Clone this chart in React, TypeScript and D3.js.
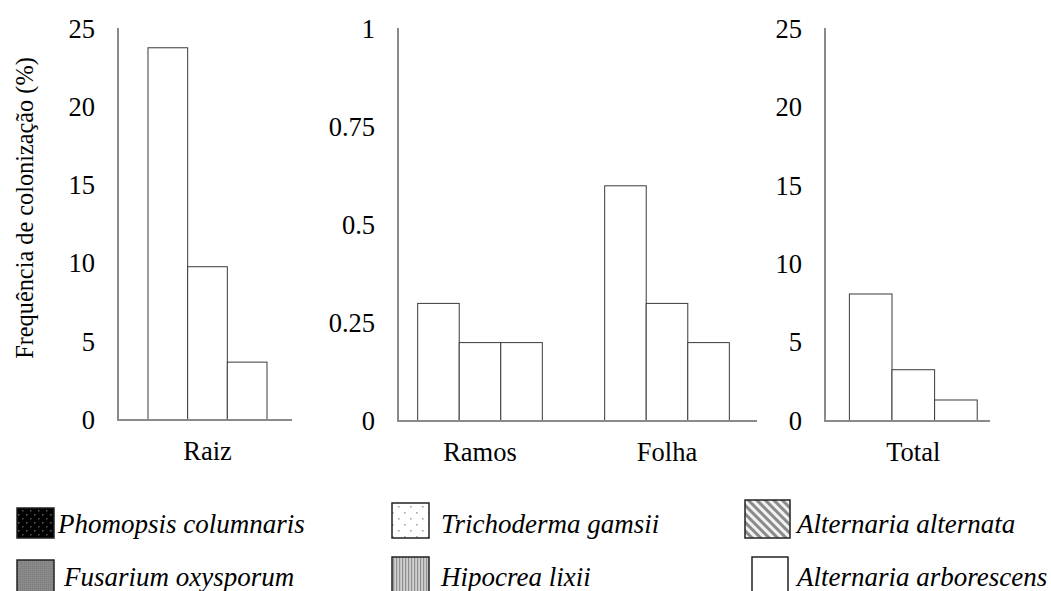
import React from "react";
import * as d3 from "d3";

const series = ["s1", "s2", "s3"];
const raizCats = ["Raiz"];
const raizValues = [[23.8, 9.8, 3.7]];
const midCats = ["Ramos", "Folha"];
const midValues = [
  [0.3, 0.2, 0.2],
  [0.6, 0.3, 0.2],
];
const totalCats = ["Total"];
const totalValues = [[8.1, 3.27, 1.34]];
const pctTicks = [0, 5, 10, 15, 20, 25];
const fracTicks = [0, 0.25, 0.5, 0.75, 1];
const fracTickLabels = ["0", "0.25", "0.5", "0.75", "1"];
const legendNames = [
  "Phomopsis columnaris",
  "Fusarium oxysporum",
  "Trichoderma gamsii",
  "Hipocrea lixii",
  "Alternaria alternata",
  "Alternaria arborescens",
];
const yTitle = "Frequência de colonização (%)";

const FONT = "Liberation Serif, Tinos, Times New Roman, DejaVu Serif, serif";
const FS = 26.5;
const AXIS = "#8a8a8a";

type PanelProps = {
  cats: string[];
  values: number[][];
  domainMax: number;
  ticks: number[];
  tickLabels: string[];
  axisX: number;
  axisEnd: number;
  bandRange: [number, number];
  innerPad: number;
  baseY: number;
  topY: number;
  labelRight: number;
};

const txt = { fontFamily: FONT, fontSize: FS } as React.CSSProperties;

function Panel(p: PanelProps) {
  const y = d3.scaleLinear().domain([0, p.domainMax]).range([p.baseY, p.topY]);
  const x0 = d3.scaleBand().domain(p.cats).range(p.bandRange).padding(0);
  const x1 = d3
    .scaleBand()
    .domain(series)
    .range([0, x0.bandwidth()])
    .paddingInner(0)
    .paddingOuter(p.innerPad);
  return (
    <g>
      {p.cats.map((c, ci) => (
        <g key={c}>
          {series.map((s, si) => {
            const v = p.values[ci][si];
            const bx = (x0(c) as number) + (x1(s) as number);
            return (
              <rect
                key={s}
                x={bx}
                y={y(v)}
                width={x1.bandwidth()}
                height={p.baseY - y(v)}
                fill="#fff"
                stroke="#3a3a3a"
                strokeWidth={1}
              />
            );
          })}
          <text
            x={(x0(c) as number) + x0.bandwidth() / 2}
            y={p.baseY + 40}
            textAnchor="middle"
            style={txt}
            fill="#000"
          >
            {c}
          </text>
        </g>
      ))}
      <line x1={p.axisX} x2={p.axisX} y1={p.topY - 1} y2={p.baseY} stroke={AXIS} strokeWidth={2} />
      <line x1={p.axisX - 1} x2={p.axisEnd} y1={p.baseY} y2={p.baseY} stroke={AXIS} strokeWidth={2} />
      {p.ticks.map((t, i) => (
        <text
          key={t}
          x={p.labelRight}
          y={y(t)}
          dy="0.33em"
          textAnchor="end"
          style={txt}
          fill="#000"
        >
          {p.tickLabels[i]}
        </text>
      ))}
    </g>
  );
}

export default function App() {
  const sw = [
    { x: 17, y: 508, w: 37, h: 30, fill: "url(#pPhom)", tx: 58, ty: 533 },
    { x: 17, y: 560, w: 37, h: 34, fill: "url(#pFus)", tx: 64, ty: 586 },
    { x: 392, y: 503, w: 37, h: 35, fill: "url(#pTri)", tx: 441, ty: 533 },
    { x: 392, y: 557, w: 37, h: 37, fill: "url(#pHip)", tx: 441, ty: 586 },
    { x: 745, y: 500, w: 45, h: 38, fill: "url(#pAlt)", tx: 797, ty: 533 },
    { x: 752, y: 557, w: 36, h: 37, fill: "#fff", tx: 797, ty: 586 },
  ];
  return (
    <svg
      width={1051}
      height={591}
      style={{ position: "absolute", left: 0, top: 0, background: "#fff" }}
    >
      <defs>
        <pattern id="pPhom" width="8" height="8" patternUnits="userSpaceOnUse">
          <rect width="8" height="8" fill="#000" />
          <rect x="2" y="2" width="1.5" height="1.5" fill="#666" />
          <rect x="6" y="6" width="1.5" height="1.5" fill="#555" />
        </pattern>
        <pattern id="pFus" width="2" height="2" patternUnits="userSpaceOnUse">
          <rect width="2" height="2" fill="#8a8a8a" />
          <rect width="1" height="1" fill="#7a7a7a" />
        </pattern>
        <pattern id="pTri" width="12" height="12" patternUnits="userSpaceOnUse">
          <rect width="12" height="12" fill="#fff" />
          <rect x="2" y="2" width="1.6" height="1.6" fill="#aaa" />
          <rect x="8" y="8" width="1.6" height="1.6" fill="#aaa" />
        </pattern>
        <pattern id="pHip" width="3" height="3" patternUnits="userSpaceOnUse">
          <rect width="3" height="3" fill="#d0d0d0" />
          <rect width="1.2" height="3" fill="#909090" />
        </pattern>
        <pattern
          id="pAlt"
          width="6"
          height="6"
          patternUnits="userSpaceOnUse"
          patternTransform="rotate(-45)"
        >
          <rect width="6" height="6" fill="#f2f2f2" />
          <rect width="3" height="6" fill="#8a8a8a" />
        </pattern>
      </defs>

      <text
        transform={`translate(33, 208) rotate(-90)`}
        textAnchor="middle"
        style={{ ...txt, fontSize: 24.3 }}
        fill="#000"
      >
        {yTitle}
      </text>

      <Panel
        cats={raizCats}
        values={raizValues}
        domainMax={25}
        ticks={pctTicks}
        tickLabels={pctTicks.map(String)}
        axisX={118}
        axisEnd={292}
        bandRange={[123, 292]}
        innerPad={0.63}
        baseY={420}
        topY={29}
        labelRight={95}
      />
      <Panel
        cats={midCats}
        values={midValues}
        domainMax={1}
        ticks={fracTicks}
        tickLabels={fracTickLabels}
        axisX={398}
        axisEnd={757}
        bandRange={[386.5, 760.5]}
        innerPad={0.75}
        baseY={421}
        topY={29}
        labelRight={375}
      />
      <Panel
        cats={totalCats}
        values={totalValues}
        domainMax={25}
        ticks={pctTicks}
        tickLabels={pctTicks.map(String)}
        axisX={825}
        axisEnd={990}
        bandRange={[836.6, 990]}
        innerPad={0.3}
        baseY={421}
        topY={29}
        labelRight={802}
      />

      {sw.map((s, i) => (
        <g key={legendNames[i]}>
          <rect
            x={s.x}
            y={s.y}
            width={s.w}
            height={s.h}
            fill={s.fill}
            stroke="#222"
            strokeWidth={1.5}
          />
          <text
            x={s.tx}
            y={s.ty}
            style={{ ...txt, fontSize: 27, fontStyle: "italic" }}
            fill="#000"
          >
            {legendNames[i]}
          </text>
        </g>
      ))}
    </svg>
  );
}
